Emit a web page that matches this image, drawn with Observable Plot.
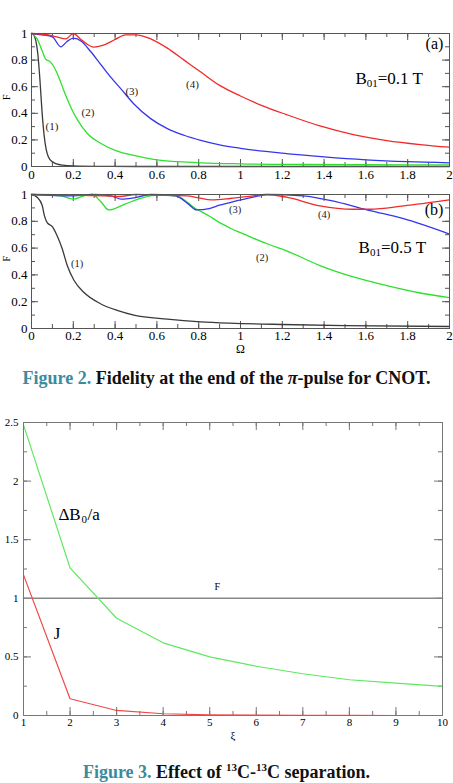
<!DOCTYPE html>
<html>
<head>
<meta charset="utf-8">
<script src="https://cdn.jsdelivr.net/npm/d3@7"></script>
<script src="https://cdn.jsdelivr.net/npm/@observablehq/plot@0.6"></script>
<style>
  body { margin: 0; background: #fff; }
  #page { position: relative; width: 453px; height: 783px; overflow: hidden; font-family: "Liberation Serif", "DejaVu Serif", serif; }
  .panel { position: absolute; left: 0; }
  .panel svg, .panel svg text { font-family: "Liberation Serif", "DejaVu Serif", serif !important; }
  .cap { position: absolute; left: 0; width: 453px; text-align: center; font-weight: bold; font-size: 18px; line-height: 22px; color: #111; white-space: nowrap; }
  .cap .fig { color: #3a8ba0; }
  .cap sup { font-size: 11px; vertical-align: 7px; line-height: 0; }
</style>
</head>
<body>
<div id="page">
  <div class="panel" id="panelA" style="top:0px"></div>
  <div class="panel" id="panelB" style="top:184px"></div>
  <div class="cap" style="top:367px"><span class="fig">Figure 2.</span> Fidelity at the end of the <i>π</i>-pulse for CNOT.</div>
  <div class="panel" id="panelC" style="top:410px"></div>
  <div class="cap" style="top:761px"><span class="fig">Figure 3.</span> Effect of <sup>13</sup>C-<sup>13</sup>C separation.</div>
</div>
<script>
// ---------- Figure 2 (a): B01 = 0.1 T, fidelity F versus Ω ----------
const a1Omega = [0, 0.01, 0.02, 0.03, 0.04, 0.05, 0.06, 0.07, 0.08, 0.1, 0.12, 0.15, 0.2, 0.3, 0.5, 1, 2];
const a1F     = [1, 0.99, 0.95, 0.85, 0.66, 0.42, 0.24, 0.13, 0.075, 0.035, 0.02, 0.01, 0.004, 0.001, 0, 0, 0];

const a2Omega = [0, 0.027, 0.051, 0.067, 0.091, 0.107, 0.131, 0.155, 0.187, 0.22, 0.266, 0.33, 0.41, 0.49, 0.6, 0.81, 1.0, 1.3, 1.6, 2];
const a2F     = [1, 0.96, 0.87, 0.81, 0.785, 0.75, 0.67, 0.57, 0.45, 0.35, 0.25, 0.175, 0.115, 0.083, 0.05, 0.028, 0.02, 0.015, 0.013, 0.012];

const a3Omega = [0, 0.05, 0.1, 0.14, 0.17, 0.2, 0.24, 0.28, 0.33, 0.38, 0.43, 0.49, 0.57, 0.65, 0.73, 0.81, 0.9, 1.0, 1.2, 1.4, 1.6, 1.8, 2];
const a3F     = [1, 0.99, 0.975, 0.9, 0.94, 0.965, 0.94, 0.87, 0.77, 0.67, 0.58, 0.47, 0.36, 0.285, 0.235, 0.197, 0.163, 0.137, 0.1, 0.072, 0.05, 0.036, 0.028];

const a4Omega = [0, 0.08, 0.12, 0.165, 0.2, 0.24, 0.3, 0.34, 0.4, 0.45, 0.5, 0.57, 0.65, 0.73, 0.81, 0.9, 1.0, 1.1, 1.22, 1.38, 1.54, 1.7, 1.86, 2];
const a4F     = [1, 0.99, 0.975, 0.96, 1.0, 0.95, 0.897, 0.91, 0.955, 0.99, 0.99, 0.96, 0.89, 0.8, 0.71, 0.61, 0.53, 0.46, 0.39, 0.305, 0.24, 0.195, 0.165, 0.145];

// ---------- Figure 2 (b): B01 = 0.5 T ----------
const b1Omega = [0, 0.027, 0.051, 0.062, 0.075, 0.1, 0.123, 0.147, 0.171, 0.203, 0.25, 0.33, 0.41, 0.49, 0.65, 0.81, 0.95, 1.2, 1.5, 2];
const b1F     = [1, 0.98, 0.92, 0.84, 0.79, 0.76, 0.69, 0.595, 0.47, 0.36, 0.27, 0.185, 0.135, 0.1, 0.07, 0.05, 0.04, 0.03, 0.022, 0.015];

const b2Omega = [0, 0.1, 0.14, 0.2, 0.25, 0.29, 0.33, 0.37, 0.45, 0.53, 0.6, 0.69, 0.79, 0.85, 0.9, 0.95, 1.0, 1.06, 1.14, 1.22, 1.38, 1.54, 1.7, 1.86, 2];
const b2F     = [1, 0.995, 0.99, 0.965, 0.99, 1, 0.95, 0.885, 0.93, 0.975, 0.995, 0.99, 0.89, 0.84, 0.79, 0.75, 0.715, 0.675, 0.625, 0.58, 0.47, 0.385, 0.32, 0.265, 0.23];

const b3Omega = [0, 0.2, 0.29, 0.38, 0.43, 0.49, 0.57, 0.69, 0.75, 0.79, 0.85, 0.9, 0.95, 1.06, 1.13, 1.3, 1.46, 1.62, 1.78, 2];
const b3F     = [1, 0.99, 1, 0.99, 0.965, 0.975, 1, 0.99, 0.93, 0.885, 0.895, 0.92, 0.94, 0.98, 1.0, 0.99, 0.945, 0.88, 0.82, 0.705];

const b4Omega = [0, 0.35, 0.42, 0.5, 0.6, 0.745, 0.8, 0.86, 0.95, 1.06, 1.12, 1.22, 1.38, 1.54, 1.62, 1.78, 2];
const b4F     = [1, 0.99, 0.985, 1, 0.995, 0.99, 0.975, 0.96, 0.97, 0.99, 1, 0.98, 0.915, 0.89, 0.89, 0.915, 0.96];

// curve numbers and where they sit
const curveTags   = ["(1)", "(2)", "(3)", "(4)"];
const tagOmegaA   = [0.098, 0.27, 0.48, 0.77];
const tagFA       = [0.30, 0.406, 0.564, 0.617];
const tagOmegaB   = [0.218, 1.103, 0.974, 1.40];
const tagFB       = [0.485, 0.53, 0.888, 0.851];

// ---------- Figure 3: versus ξ ----------
const xi       = [1, 2, 3, 4, 5, 6, 7, 8, 9, 10];
const deltaB0a = [2.48, 1.26, 0.83, 0.62, 0.5, 0.42, 0.356, 0.305, 0.276, 0.248];
const coupling = [1.2, 0.143, 0.043, 0.015, 0.006, 0.003, 0.001, 0.0005, 0.0002, 0.0001];
const fidelity = [1, 1, 1, 1, 1, 1, 1, 1, 1, 1];

// tick values
const omegaTicks = [0, 0.2, 0.4, 0.6, 0.8, 1, 1.2, 1.4, 1.6, 1.8, 2];
const fTicks     = [0, 0.2, 0.4, 0.6, 0.8, 1];
const xiTicks    = [1, 2, 3, 4, 5, 6, 7, 8, 9, 10];
const valTicks   = [0, 0.5, 1, 1.5, 2, 2.5];

const serif = "Liberation Serif, DejaVu Serif, serif";
const RED = "#f02a2a", GREEN = "#2ee02e", BLUE = "#3535ee", BLACK = "#3a3a3a";

const minors = (lo, hi, step) => d3.range(Math.round((hi - lo) / step) + 1).map(i => +(lo + i * step).toFixed(4));
const pts = (xs, ys) => xs.map((x, i) => ({x, y: ys[i]}));

// Boxed panel with inward ticks on all four sides
function boxedPanel(o) {
  const fw = o.width - o.marginLeft - o.marginRight;
  const fh = o.height - o.marginTop - o.marginBottom;
  const ticks = (xs, ys, len) => [
    Plot.ruleX(xs, {x: d => d, insetTop: fh - len, stroke: o.frameColor}),
    Plot.ruleX(xs, {x: d => d, insetBottom: fh - len, stroke: o.frameColor}),
    Plot.ruleY(ys, {y: d => d, insetRight: fw - len, stroke: o.frameColor}),
    Plot.ruleY(ys, {y: d => d, insetLeft: fw - len, stroke: o.frameColor})
  ];
  return Plot.plot({
    width: o.width, height: o.height,
    marginLeft: o.marginLeft, marginRight: o.marginRight,
    marginTop: o.marginTop, marginBottom: o.marginBottom,
    x: {domain: o.xDomain},
    y: {domain: o.yDomain},
    style: {fontFamily: serif, color: "#000", background: "transparent", overflow: "visible"},
    marks: [
      ...ticks(o.xMinor, o.yMinor, o.minorLen),
      ...ticks(o.xMajor, o.yMajor, o.majorLen),
      Plot.axisX(o.xMajor, {tickSize: 0, tickPadding: o.xPad, fontSize: o.tickFont, fontFamily: serif, fill: "#000", tickFormat: d => String(d), label: null}),
      Plot.axisY(o.yMajor, {tickSize: 0, tickPadding: o.yPad, fontSize: o.tickFont, fontFamily: serif, fill: "#000", tickFormat: d => String(d), label: null}),
      ...o.marks,
      Plot.frame({stroke: o.frameColor})
    ]
  });
}

// Text with a subscript part, built from consecutive pieces
function subscripted(x, y, parts) {
  return parts.map(p => Plot.text([{x, y}], {
    x: "x", y: "y", text: () => p.t, textAnchor: "start",
    dx: p.dx, dy: p.dy || 0, fontSize: p.size, fill: "#000", fontFamily: serif
  }));
}

function curveLines(sets) {
  return sets.map(([xs, ys, c]) => Plot.line(pts(xs, ys), {x: "x", y: "y", stroke: c, strokeWidth: 1.3, curve: "monotone-x"}));
}

function tagMarks(xs, ys, size) {
  return [Plot.text(curveTags.map((t, i) => ({t, x: xs[i], y: ys[i]})), {x: "x", y: "y", text: "t", fontSize: size, fill: "#222", fontFamily: serif})];
}

// panel (a)
const panelA = boxedPanel({
  width: 453, height: 184, marginLeft: 31, marginRight: 4, marginTop: 33, marginBottom: 18,
  xDomain: [0, 2], yDomain: [0, 1],
  xMajor: omegaTicks, xMinor: minors(0, 2, 0.1), yMajor: fTicks, yMinor: minors(0, 1, 0.1),
  majorLen: 7, minorLen: 4, xPad: 3, yPad: 4, tickFont: 13, frameColor: "#555",
  marks: [
    ...curveLines([[a1Omega, a1F, BLACK], [a2Omega, a2F, GREEN], [a3Omega, a3F, BLUE], [a4Omega, a4F, RED]]),
    ...tagMarks(tagOmegaA, tagFA, 11),
    Plot.text([{x: 1.928, y: 0.925}], {x: "x", y: "y", text: () => "(a)", fontSize: 16, fill: "#000", fontFamily: serif}),
    ...subscripted(1.55, 0.662, [
      {t: "B", size: 17, dx: 0},
      {t: "01", size: 11, dx: 11.3, dy: 5},
      {t: "=0.1 T", size: 17, dx: 22.3}
    ]),
    Plot.text(["F"], {frameAnchor: "left", dx: -25, rotate: -90, text: d => d, fontSize: 10, fill: "#000", fontFamily: serif})
  ]
});
document.getElementById("panelA").append(panelA);

// panel (b)
const panelB = boxedPanel({
  width: 453, height: 178, marginLeft: 31, marginRight: 4, marginTop: 10, marginBottom: 34,
  xDomain: [0, 2], yDomain: [0, 1],
  xMajor: omegaTicks, xMinor: minors(0, 2, 0.1), yMajor: fTicks, yMinor: minors(0, 1, 0.1),
  majorLen: 7, minorLen: 4, xPad: 2, yPad: 4, tickFont: 13, frameColor: "#555",
  marks: [
    ...curveLines([[b1Omega, b1F, BLACK], [b2Omega, b2F, GREEN], [b3Omega, b3F, BLUE], [b4Omega, b4F, RED]]),
    ...tagMarks(tagOmegaB, tagFB, 10.5),
    Plot.text([{x: 1.926, y: 0.888}], {x: "x", y: "y", text: () => "(b)", fontSize: 16, fill: "#000", fontFamily: serif}),
    ...subscripted(1.565, 0.604, [
      {t: "B", size: 17, dx: 0},
      {t: "01", size: 11, dx: 11.3, dy: 5},
      {t: "=0.5 T", size: 17, dx: 22.3}
    ]),
    Plot.text(["F"], {frameAnchor: "left", dx: -25, rotate: -90, text: d => d, fontSize: 10, fill: "#000", fontFamily: serif}),
    Plot.text(["Ω"], {frameAnchor: "bottom", dy: 24, text: d => d, fontSize: 12, fill: "#000", fontFamily: serif})
  ]
});
document.getElementById("panelB").append(panelB);

// Figure 3
const panelC = boxedPanel({
  width: 453, height: 340, marginLeft: 23, marginRight: 11, marginTop: 12, marginBottom: 35,
  xDomain: [1, 10], yDomain: [0, 2.5],
  xMajor: xiTicks, xMinor: minors(1, 10, 0.5), yMajor: valTicks, yMinor: minors(0, 2.5, 0.25),
  majorLen: 8, minorLen: 4, xPad: 3, yPad: 5, tickFont: 11, frameColor: "#777",
  marks: [
    Plot.line(pts(xi, fidelity), {x: "x", y: "y", stroke: "#888", strokeWidth: 1.6}),
    Plot.line(pts(xi, deltaB0a), {x: "x", y: "y", stroke: "#5fe85f", strokeWidth: 1.2}),
    Plot.line(pts(xi, coupling), {x: "x", y: "y", stroke: "#f04848", strokeWidth: 1.2}),
    ...subscripted(1.75, 1.718, [
      {t: "ΔB", size: 17, dx: 0},
      {t: "0", size: 11, dx: 23, dy: 5},
      {t: "/a", size: 17, dx: 29}
    ]),
    Plot.text([{x: 1.72, y: 0.70}], {x: "x", y: "y", text: () => "J", fontSize: 17, fill: "#000", fontFamily: serif}),
    Plot.text([{x: 5.16, y: 1.10}], {x: "x", y: "y", text: () => "F", fontSize: 10, fill: "#000", fontFamily: serif}),
    Plot.text(["ξ"], {frameAnchor: "bottom", dy: 23, text: d => d, fontSize: 11, fill: "#000", fontFamily: serif})
  ]
});
document.getElementById("panelC").append(panelC);
</script>
</body>
</html>
